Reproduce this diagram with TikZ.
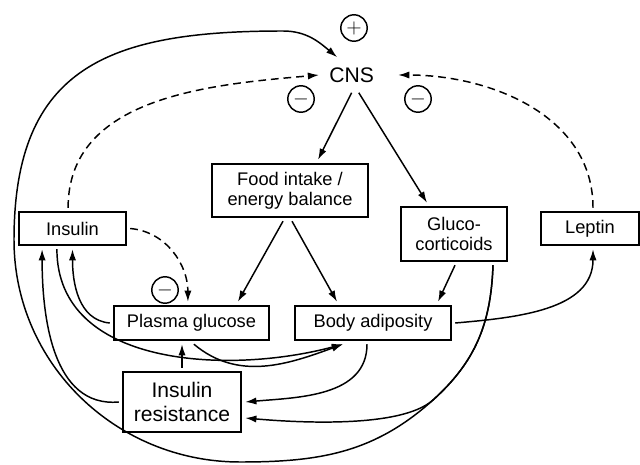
\documentclass[tikz,border=0pt]{standalone}
\usepackage{fontspec}
\setmainfont{Liberation Sans}
\usetikzlibrary{arrows.meta}

\begin{document}
\begin{tikzpicture}[every node/.style={font=\fontsize{13}{14.5}\selectfont}]
    \useasboundingbox (0,0) rectangle (16,11.6);

    % Styles.
    \tikzstyle{box} = [draw, line width=1.05pt, align=center, inner sep=1pt, outer sep=3pt, minimum height=0.85cm]
    \tikzstyle{sign} = [draw, circle, line width=1.05pt, minimum size=0.66cm, inner sep=0pt, font=\fontsize{14}{14}\selectfont]
    \tikzstyle{arr} = [-{Latex[length=2.8mm,width=1.8mm]}, line width=1.05pt]
    \tikzstyle{darr} = [arr, dash pattern=on 5.5pt off 3.5pt]

    % Boxes.
    \node[font=\fontsize{15}{15}\selectfont, outer sep=4pt] (CNS) at (8.79,9.725) {CNS};
    \node[box, minimum width=3.9cm, minimum height=1.325cm] (food) at (7.25,6.8375) {Food intake /\\energy balance};
    \node[box, minimum width=2.65cm, minimum height=1.35cm] (gluco) at (11.35,5.75) {Gluco-\\corticoids};
    \node[box, minimum width=2.45cm, minimum height=0.825cm] (leptin) at (14.75,5.8875) {Leptin};
    \node[box, minimum width=2.675cm, minimum height=0.825cm] (insulin) at (1.8125,5.8875) {Insulin};
    \node[box, minimum width=3.875cm] (plasma) at (4.7875,3.525) {Plasma glucose};
    \node[box, minimum width=3.9cm] (body) at (9.325,3.525) {Body adiposity};
    \node[box, line width=2pt, minimum width=2.95cm, minimum height=1.5cm,
          font=\fontsize{15}{16.5}\selectfont] (resist) at (4.55,1.55) {Insulin\\resistance};

    % Signs.
    \node[sign] (plus) at (8.85,10.9) {$+$};
    \node[sign] (minusL) at (7.525,9.125) {$-$};
    \node[sign] (minusR) at (10.45,9.125) {$-$};
    \node[sign] (minusP) at (4.125,4.35) {$-$};

    % Solid arrows.
    \draw[arr] (CNS.south) -- ([xshift=0.7cm]food.north);
    \draw[arr] ([xshift=0.18cm]CNS.south) -- ([xshift=-0.675cm]gluco.north);
    \draw[arr] ([xshift=-0.175cm]food.south) -- ([xshift=1.16cm]plasma.north);
    \draw[arr] ([xshift=0.05cm]food.south) -- ([xshift=-0.9cm]body.north);
    \draw[arr] ([xshift=0.025cm]gluco.south) -- ([xshift=1.625cm]body.north);
    \draw[arr] (resist.north) -- (resist.north |- plasma.south);
    \draw[arr] (plasma.west) to[out=175,in=-90] (insulin.south);
    \draw[arr] (resist.west) to[out=185,in=-90] ([xshift=-0.76cm]insulin.south);
    \draw[arr] ([xshift=-0.39cm]insulin.south) to[out=-90,in=195] ([xshift=-0.75cm]body.south);
    \draw[arr] ([xshift=0.06cm]plasma.south) to[out=-40,in=200] ([xshift=-0.75cm]body.south);
    \draw[arr] ([xshift=-0.15cm]body.south) to[out=-90,in=5] (resist.east);
    \draw[arr] (body.east) to[out=5,in=-90] ([xshift=0.075cm]leptin.south);
    \coordinate (split) at (10.825,1.6);
    \draw[arr] ([xshift=0.975cm]gluco.south) to[out=-92,in=42] (split)
        to[out=222,in=-5,looseness=0.6] ([yshift=-0.4cm]resist.east);
    \draw[arr] ([xshift=0.975cm]gluco.south) to[out=-92,in=42] (split)
        to[out=222,in=0] (6,0.05) to[out=180,in=-90] (0.35,5.6)
        to[out=90,in=180,looseness=1.3] (7.075,10.825) to[out=0,in=140] ([xshift=-0.36cm]CNS.north);

    % Dashed arrows.
    \draw[darr] ([xshift=-0.11cm]insulin.north) to[out=90,in=185] (CNS.west);
    \draw[darr] ([xshift=0.075cm]leptin.north) to[out=90,in=0] ([xshift=0.35cm]CNS.east);
    \draw[darr] (insulin.east) to[out=-5,in=90] ([xshift=-0.09cm]plasma.north);
\end{tikzpicture}
\end{document}
